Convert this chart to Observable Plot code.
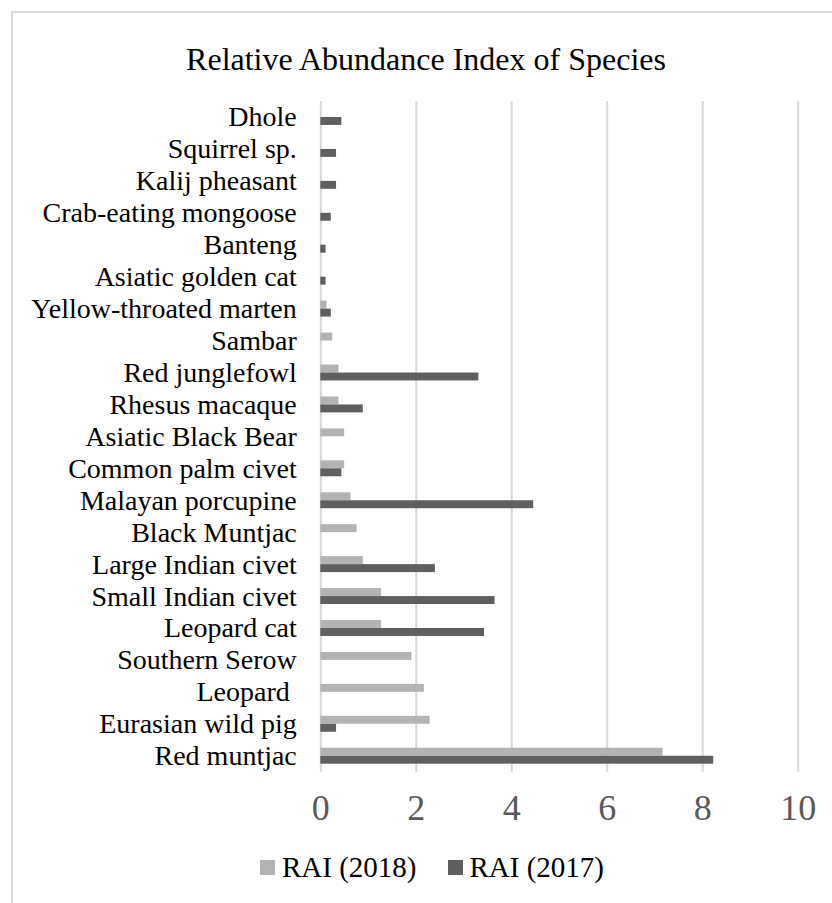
<!DOCTYPE html>
<html>
<head>
<meta charset="utf-8">
<script src="https://cdn.jsdelivr.net/npm/d3@7"></script>
<script src="https://cdn.jsdelivr.net/npm/@observablehq/plot@0.6"></script>
<style>
  html, body { margin: 0; padding: 0; background: #fff; }
  body { width: 832px; height: 903px; position: relative; overflow: hidden; font-family: "Liberation Serif", "Times New Roman", serif; }
  #frame { position: absolute; left: 11px; top: 11px; width: 840px; height: 920px; border-left: 2px solid #d9d9d9; border-top: 2px solid #d9d9d9; box-sizing: border-box; }
  #title { position: absolute; left: 11px; width: 830px; top: 43px; text-align: center; font-size: 32px; line-height: 32px; color: #000; }
  #chart { position: absolute; left: 0; top: 0; }
  #legend { position: absolute; left: 260px; top: 852px; display: flex; align-items: center; font-size: 29px; line-height: 30px; color: #000; }
  .item { display: flex; align-items: center; }
  .sw { width: 15px; height: 15px; display: inline-block; margin-right: 7px; }
  .gap { width: 31px; }
</style>
</head>
<body>
<div id="frame"></div>
<div id="chart"></div>
<div id="title"></div>
<div id="legend"></div>
<script>
const titleText = "Relative Abundance Index of Species";
const species = [
  "Dhole", "Squirrel sp.", "Kalij pheasant", "Crab-eating mongoose", "Banteng",
  "Asiatic golden cat", "Yellow-throated marten", "Sambar", "Red junglefowl",
  "Rhesus macaque", "Asiatic Black Bear", "Common palm civet", "Malayan porcupine",
  "Black Muntjac", "Large Indian civet", "Small Indian civet", "Leopard cat",
  "Southern Serow", "Leopard\u00a0", "Eurasian wild pig", "Red muntjac"
];
const rai2018 = [null, null, null, null, null, null, 0.13, 0.25, 0.38, 0.38, 0.50, 0.50, 0.63, 0.76, 0.89, 1.27, 1.27, 1.91, 2.17, 2.29, 7.17];
const rai2017 = [0.44, 0.33, 0.33, 0.22, 0.11, 0.11, 0.22, null, 3.31, 0.89, null, 0.44, 4.46, null, 2.40, 3.65, 3.43, null, null, 0.33, 8.23];
const seriesNames = ["RAI (2018)", "RAI (2017)"];
const seriesColors = ["#b3b3b3", "#5f5f5f"];
const xTicks = [0, 2, 4, 6, 8, 10];

const rows = species.map((s, i) => ({species: s, r2018: rai2018[i], r2017: rai2017[i]}));

const H = 840;
const chart = Plot.plot({
  width: 832,
  height: H,
  marginTop: 101,
  marginBottom: H - 771.7,
  marginLeft: 320.3,
  marginRight: 34.3,
  x: {domain: [0, 10], ticks: xTicks, label: null},
  y: {domain: species, padding: 0, round: false, label: null},
  style: {background: "transparent", fontFamily: "'Liberation Serif', 'Times New Roman', serif"},
  marks: [
    Plot.gridX(xTicks, {stroke: "#d9d9d9", strokeOpacity: 1, strokeWidth: 2}),
    Plot.barX(rows, {x: "r2018", y: "species", fill: seriesColors[0], insetTop: 8, insetBottom: 16}),
    Plot.barX(rows, {x: "r2017", y: "species", fill: seriesColors[1], insetTop: 16, insetBottom: 8}),
    Plot.axisX({ticks: xTicks, tickSize: 0, tickPadding: 22.5, fontSize: 36, fill: "#595959", label: null}),
    Plot.axisY({tickSize: 0, tickPadding: 24, fontSize: 28, fill: "#000", label: null})
  ]
});
document.getElementById("chart").appendChild(chart);
document.getElementById("title").textContent = titleText;

const legend = document.getElementById("legend");
seriesNames.forEach((name, i) => {
  if (i > 0) { const g = document.createElement("span"); g.className = "gap"; legend.appendChild(g); }
  const item = document.createElement("span"); item.className = "item";
  const sw = document.createElement("span"); sw.className = "sw"; sw.style.background = seriesColors[i];
  const t = document.createElement("span"); t.textContent = name;
  item.appendChild(sw); item.appendChild(t); legend.appendChild(item);
});
</script>
</body>
</html>
